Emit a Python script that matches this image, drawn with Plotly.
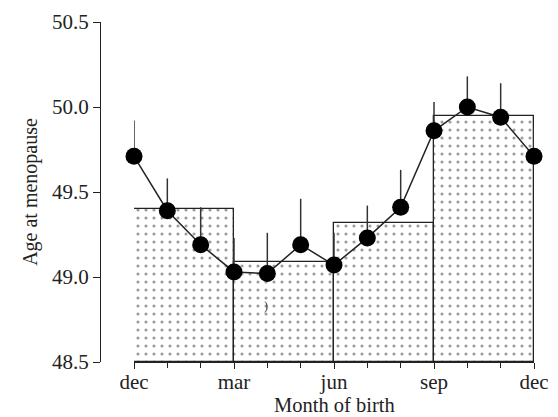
import plotly.graph_objects as go

# ---- data ----
month_pos = [0, 1, 2, 3, 4, 5, 6, 7, 8, 9, 10, 11, 12]  # 0 = dec ... 12 = dec
age_monthly = [49.71, 49.39, 49.19, 49.03, 49.02, 49.19, 49.07, 49.23, 49.41, 49.86, 50.00, 49.94, 49.71]
err_upper = [0.21, 0.19, 0.22, 0.20, 0.24, 0.27, 0.19, 0.19, 0.22, 0.17, 0.18, 0.20, 0.17]

season_mid = [1.5, 4.5, 7.5, 10.5]
season_width = [3, 3, 3, 3]
age_seasonal = [49.40, 49.09, 49.32, 49.95]

tick_pos = [0, 3, 6, 9, 12]
tick_text = ["dec", "mar", "jun", "sep", "dec"]
y_ticks = [48.5, 49.0, 49.5, 50.0, 50.5]
y_min, y_max = 48.5, 50.5

FONT = "Liberation Serif"
OFF = 8  # page body margin of the html

fig = go.Figure()

fig.add_trace(go.Bar(
    x=season_mid,
    y=[v - y_min for v in age_seasonal],
    base=y_min,
    width=season_width,
    marker=dict(
        color="white",
        line=dict(color="#222222", width=1.3),
        pattern=dict(shape=".", fgcolor="#3a3a3a", bgcolor="white", size=8, solidity=0.12),
    ),
    showlegend=False,
))

fig.add_trace(go.Scatter(
    x=month_pos,
    y=age_monthly,
    mode="lines+markers",
    line=dict(color="#222222", width=1.5),
    marker=dict(color="black", size=17),
    error_y=dict(type="data", symmetric=False, array=err_upper,
                 arrayminus=[0] * len(err_upper), width=0, thickness=1.5, color="#333333"),
    cliponaxis=False,
    showlegend=False,
))

fig.add_annotation(x=3.96, y=48.83, text=")", showarrow=False,
                   font=dict(family=FONT, size=12, color="#333333"))

# x-axis title placed as a paper annotation
fig.add_annotation(xref="paper", yref="paper", x=0.5 + 17 / 434, y=-0.125,
                   text="Month of birth", showarrow=False, xanchor="center", yanchor="middle",
                   font=dict(family=FONT, size=20.5, color="#222222"))

fig.update_layout(
    width=558, height=417,
    margin=dict(l=100 - OFF, r=24 + OFF, t=22 - OFF, b=55 + OFF),
    paper_bgcolor="white", plot_bgcolor="white",
    bargap=0,
    font=dict(family=FONT, size=21, color="#222222"),
    xaxis=dict(
        domain=[34 / 434, 1],
        range=[0, 12],
        automargin=False,
        tickvals=tick_pos, ticktext=tick_text,
        ticks="outside", ticklen=6, tickcolor="#222222", tickwidth=1.3,
        ticklabelstandoff=-5,
        minor=dict(tick0=0, dtick=1, ticks="outside", ticklen=5, tickcolor="#222222", tickwidth=1.3),
        showline=True, linecolor="#222222", linewidth=1.3,
        showgrid=False, zeroline=False,
        tickfont=dict(family=FONT, size=21),
    ),
    yaxis=dict(
        anchor="free", position=0,
        range=[y_min, y_max],
        automargin=False,
        tickvals=y_ticks, ticktext=[f"{v:.1f}" for v in y_ticks],
        ticks="outside", ticklen=7, tickcolor="#222222", tickwidth=1.3,
        showline=True, linecolor="#222222", linewidth=1.3,
        showgrid=False, zeroline=False,
        title=dict(text="Age at menopause", font=dict(family=FONT, size=20), standoff=7),
        tickfont=dict(family=FONT, size=21),
    ),
)

fig.write_html("out.html")
